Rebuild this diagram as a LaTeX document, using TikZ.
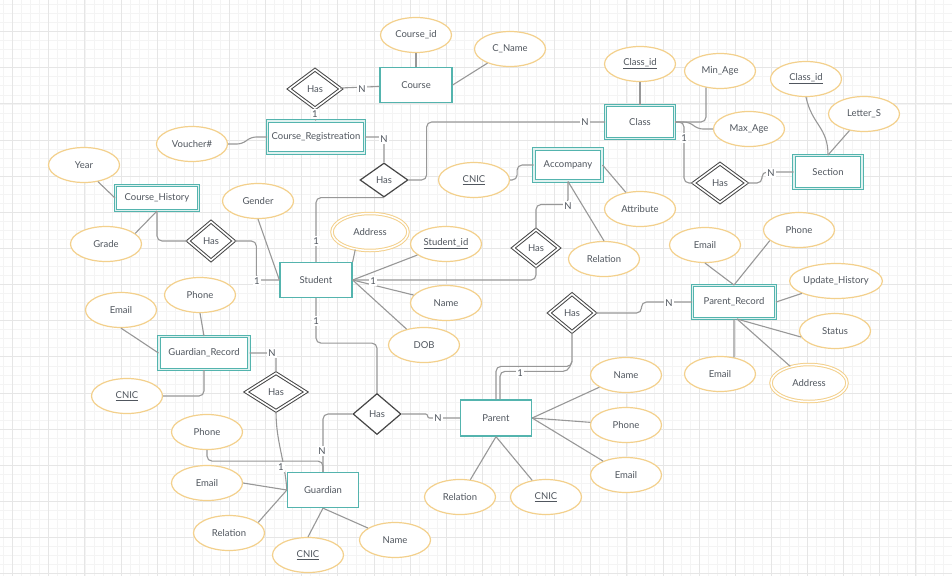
\documentclass[tikz,border=0pt]{standalone}
\usepackage{fontspec}
\setmainfont{Lato}
\usetikzlibrary{shapes.geometric}
\definecolor{gridmin}{RGB}{244,244,244}
\definecolor{gridmaj}{RGB}{230,230,230}
\definecolor{entc}{RGB}{84,180,174}
\definecolor{attc}{RGB}{243,208,140}
\definecolor{relc}{RGB}{70,70,70}
\definecolor{linec}{RGB}{152,152,152}
\definecolor{txtc}{RGB}{80,86,94}
\tikzset{
	erbase/.style={font=\fontsize{9.5}{11}\selectfont, text=txtc, inner sep=0pt},
	entity/.style={erbase, rectangle, draw=entc, line width=1.3pt, fill=white, minimum width=71pt, minimum height=35pt},
	weakentity/.style={entity, double=entc!18, double distance=1.8pt, line width=1pt, minimum width=69pt, minimum height=33pt},
	attrib/.style={erbase, ellipse, draw=attc, line width=1.2pt, fill=white, minimum width=71pt, minimum height=35pt},
	multiattr/.style={attrib, double=white, double distance=1.5pt, line width=1pt, minimum width=76pt, minimum height=37pt},
	relship/.style={erbase, diamond, draw=relc, line width=1.2pt, fill=white, minimum width=48pt, minimum height=34pt},
	weakrel/.style={relship, double=white, double distance=1.6pt, line width=1pt, minimum width=46pt, minimum height=38pt},
	conn/.style={draw=linec, line width=1.1pt, rounded corners=5pt},
	card/.style={erbase, fill=white, inner sep=1.2pt},
}
\begin{document}
\begin{tikzpicture}[x=1pt,y=-1pt]
	\useasboundingbox (0,0) rectangle (952,576);
	% grid paper
	\fill[white] (0,0) rectangle (952,576);
	\foreach \gi in {-2,...,105} \draw[gridmin, line width=0.4pt] ({12.5+9.0325*\gi},0) -- ++(0,576);
	\foreach \gi in {-4,...,61} \draw[gridmin, line width=0.4pt] (0,{31.5+9.0325*\gi}) -- ++(952,0);
	\foreach \gi in {0,...,26} \draw[gridmaj, line width=0.6pt] ({12.5+36.13*\gi},0) -- ++(0,576);
	\foreach \gi in {-1,...,15} \draw[gridmaj, line width=0.6pt] (0,{31.5+36.13*\gi}) -- ++(952,0);

	% entities
	\node[entity, minimum width=72pt] (course) at (416,85) {Course};
	\node[weakentity, minimum width=97pt, minimum height=32pt] (cReg) at (316,137) {Course\_Registreation};
	\node[weakentity] (cls) at (640,122) {Class};
	\node[weakentity, minimum width=68pt] (section) at (828,172) {Section};
	\node[weakentity, minimum width=68pt, minimum height=32pt] (accomp) at (568,165) {Accompany};
	\node[weakentity, minimum width=83pt, minimum height=25pt] (courseHist) at (157,198) {Course\_History};
	\node[entity, minimum width=72pt] (student) at (316,280) {Student};
	\node[weakentity, minimum width=83pt] (parentRec) at (734,302) {Parent\_Record};
	\node[weakentity, minimum width=90pt] (grRec) at (204,353) {Guardian\_Record};
	\node[entity, minimum height=36pt] (parent) at (496,418) {Parent};
	\node[entity] (guardian) at (323,490) {Guardian};

	% relationships
	\node[weakrel, minimum width=52pt, minimum height=39pt] (hasC) at (315,89) {Has};
	\node[relship] (hasS) at (384,180) {Has};
	\node[weakrel, minimum width=53pt, minimum height=39pt] (hasSec) at (720,183) {Has};
	\node[weakrel, minimum height=37pt] (hasA) at (536,248) {Has};
	\node[weakrel, minimum height=39pt] (hasCH) at (211,241) {Has};
	\node[relship, minimum height=41pt] (hasM) at (377,414) {Has};
	\node[weakrel] (hasP) at (572,313) {Has};
	\node[weakrel, minimum width=60pt] (hasG) at (276,392) {Has};

	% attributes
	\node[attrib] (courseId) at (416,35) {Course\_id};
	\node[attrib] (cName) at (510,49) {C\_Name};
	\node[attrib] (voucher) at (192,144) {Voucher\#};
	\node[attrib] (classId) at (640,64) {\underline{Class\_id}};
	\node[attrib] (minAge) at (720,71) {Min\_Age};
	\node[attrib] (maxAge) at (749,129) {Max\_Age};
	\node[attrib] (classId2) at (806,79) {\underline{Class\_id}};
	\node[attrib] (letterS) at (864,114) {Letter\_S};
	\node[attrib] (aCnic) at (474,180) {\underline{CNIC}};
	\node[attrib] (aAttr) at (640,209) {Attribute};
	\node[attrib] (aRel) at (604,259) {Relation};
	\node[attrib] (year) at (84,165) {Year};
	\node[attrib] (grade) at (106,244) {Grade};
	\node[attrib] (gender) at (258,201) {Gender};
	\node[multiattr] (sAddr) at (370,232) {Address};
	\node[attrib] (studentId) at (446,244) {\underline{Student\_id}};
	\node[attrib] (sName) at (446,303) {Name};
	\node[attrib] (dob) at (424,345) {DOB};
	\node[attrib] (prEmail) at (705,245) {Email};
	\node[attrib] (prPhone) at (799,230) {Phone};
	\node[attrib] (updHist) at (836,281) {Update\_History};
	\node[attrib] (status) at (835,331) {Status};
	\node[attrib] (prEmail2) at (720,374) {Email};
	\node[multiattr] (prAddr) at (809,383) {Address};
	\node[attrib] (grEmail) at (121,310) {Email};
	\node[attrib] (grPhone) at (200,295) {Phone};
	\node[attrib] (grCnic) at (127,396) {\underline{CNIC}};
	\node[attrib] (pName) at (626,375) {Name};
	\node[attrib] (pPhone) at (626,425) {Phone};
	\node[attrib] (pEmail) at (626,475) {Email};
	\node[attrib] (pRel) at (460,497) {Relation};
	\node[attrib] (pCnic) at (546,497) {\underline{CNIC}};
	\node[attrib] (gPhone) at (207,432) {Phone};
	\node[attrib] (gEmail) at (207,483) {Email};
	\node[attrib] (gRel) at (229,533) {Relation};
	\node[attrib] (gCnic) at (308,555) {\underline{CNIC}};
	\node[attrib] (gName) at (395,540) {Name};

	% connectors
	\draw[conn] (hasC) -- (course);
	\draw[conn] (hasC) -- (cReg);
	\draw[conn] (courseId) -- (course);
	\draw[conn] (course.east) -- (cName);
	\draw[conn] (voucher.east) -- ++(14,0) -- ++(9,-7) -- (cReg.west);
	\draw[conn] (cReg.east) -| (hasS.north);
	\draw[conn] (hasS.east) -- ++(18,0) |- (cls.west);
	\draw[conn] (hasS.south) -| (student.north);
	\draw[conn] (classId) -- (cls);
	\draw[conn] (cls.east) -| (minAge.230);
	\draw[conn] (cls.east) -- ++(14,0) -- ++(9,7) -- (maxAge.west);
	\draw[conn] (cls.east) -- ++(9,0) |- (hasSec.west);
	\draw[conn] (hasSec.east) -- ++(15,0) |- (section.west);
	\draw[conn] (classId2.south) .. controls +(6,28) and +(0,-28) .. (section.north);
	\draw[conn] (letterS) -- (section.north);
	\draw[conn] (aCnic.east) -- ++(7,0) |- (accomp.west);
	\draw[conn] (accomp.east) -- (aAttr);
	\draw[conn] (accomp.south) -- (aRel.north);
	\draw[conn] (accomp.south) -- ++(0,23) -| (hasA.north);
	\draw[conn] (hasA.south) |- (student.east);
	\draw[conn] (student.west) -- ++(-23,0) |- (hasCH.east);
	\draw[conn] (hasCH.west) -| (courseHist.south);
	\draw[conn] (year.-50) -- (courseHist.west);
	\draw[conn] (grade.20) -- (courseHist.south);
	\draw[conn] (gender.south) -- (student.west);
	\draw[conn] (sAddr.230) -- (student.north east);
	\draw[conn] (student.east) -- (studentId);
	\draw[conn] (student.east) -- (sName);
	\draw[conn] (student.east) -- (dob);
	\draw[conn] (student.south) -- ++(0,45) -| (hasM.north);
	\draw[conn, rounded corners=2pt] (hasM.east) -- ++(26,0) |- (parent.west);
	\draw[conn] (hasM.west) -| (guardian.north);
	\draw[conn] (parent.east) -- (pName);
	\draw[conn] (parent.east) -- (pPhone);
	\draw[conn] (parent.east) -- (pEmail);
	\draw[conn] (parent.south) -- (pRel);
	\draw[conn] (parent.south) -- (pCnic);
	\draw[conn] (parent.north) -- ++(0,-33) -| (hasP.south);
	\draw[conn] ([xshift=4pt]parent.north) -- ++(0,-28) -- ++(68,0) -- ++(4,-10);
	\draw[conn] (hasP.east) -- ++(46,0) |- (parentRec.west);
	\draw[conn] (prEmail.south) -- (parentRec.north);
	\draw[conn] (prPhone.200) -- (parentRec.north);
	\draw[conn] (updHist.200) -- (parentRec.east);
	\draw[conn] (parentRec.-80) -- (status.190);
	\draw[conn] (parentRec.south) -- (prEmail2.50);
	\draw[conn] (parentRec.-80) -- (prAddr);
	\draw[conn] (grEmail.south) -- (grRec.west);
	\draw[conn] (grPhone.south) -- (grRec.north);
	\draw[conn] (grCnic.east) -| (grRec.south);
	\draw[conn] (grRec.east) -| (hasG.north);
	\draw[conn] (hasG.south) .. controls +(0,30) and +(-2,-30) .. (guardian.west);
	\draw[conn] (gPhone.south) -- ++(0,11) -| (guardian.north);
	\draw[conn] (gEmail.east) -- (guardian.west);
	\draw[conn] (gRel.20) -- (guardian.west);
	\draw[conn] (gCnic.north) -- (guardian.south);
	\draw[conn] (guardian.south) -- (gName);

	% cardinalities
	\node[card] (cd1) at (362,89) {N};
	\node[card] (cd2) at (315,114) {1};
	\node[card] (cd3) at (384,139) {N};
	\node[card] (cd4) at (316,241) {1};
	\node[card] (cd5) at (585,122) {N};
	\node[card] (cd6) at (684,138) {1};
	\node[card] (cd7) at (771,173) {N};
	\node[card] (cd8) at (568,206) {N};
	\node[card] (cd9) at (373,281) {1};
	\node[card] (cd10) at (257,281) {1};
	\node[card] (cd11) at (316,321) {1};
	\node[card] (cd12) at (438,418) {N};
	\node[card] (cd13) at (322,451) {N};
	\node[card] (cd14) at (520,373) {1};
	\node[card] (cd15) at (669,303) {N};
	\node[card] (cd16) at (272,353) {N};
	\node[card] (cd17) at (281,467) {1};
\end{tikzpicture}
\end{document}
